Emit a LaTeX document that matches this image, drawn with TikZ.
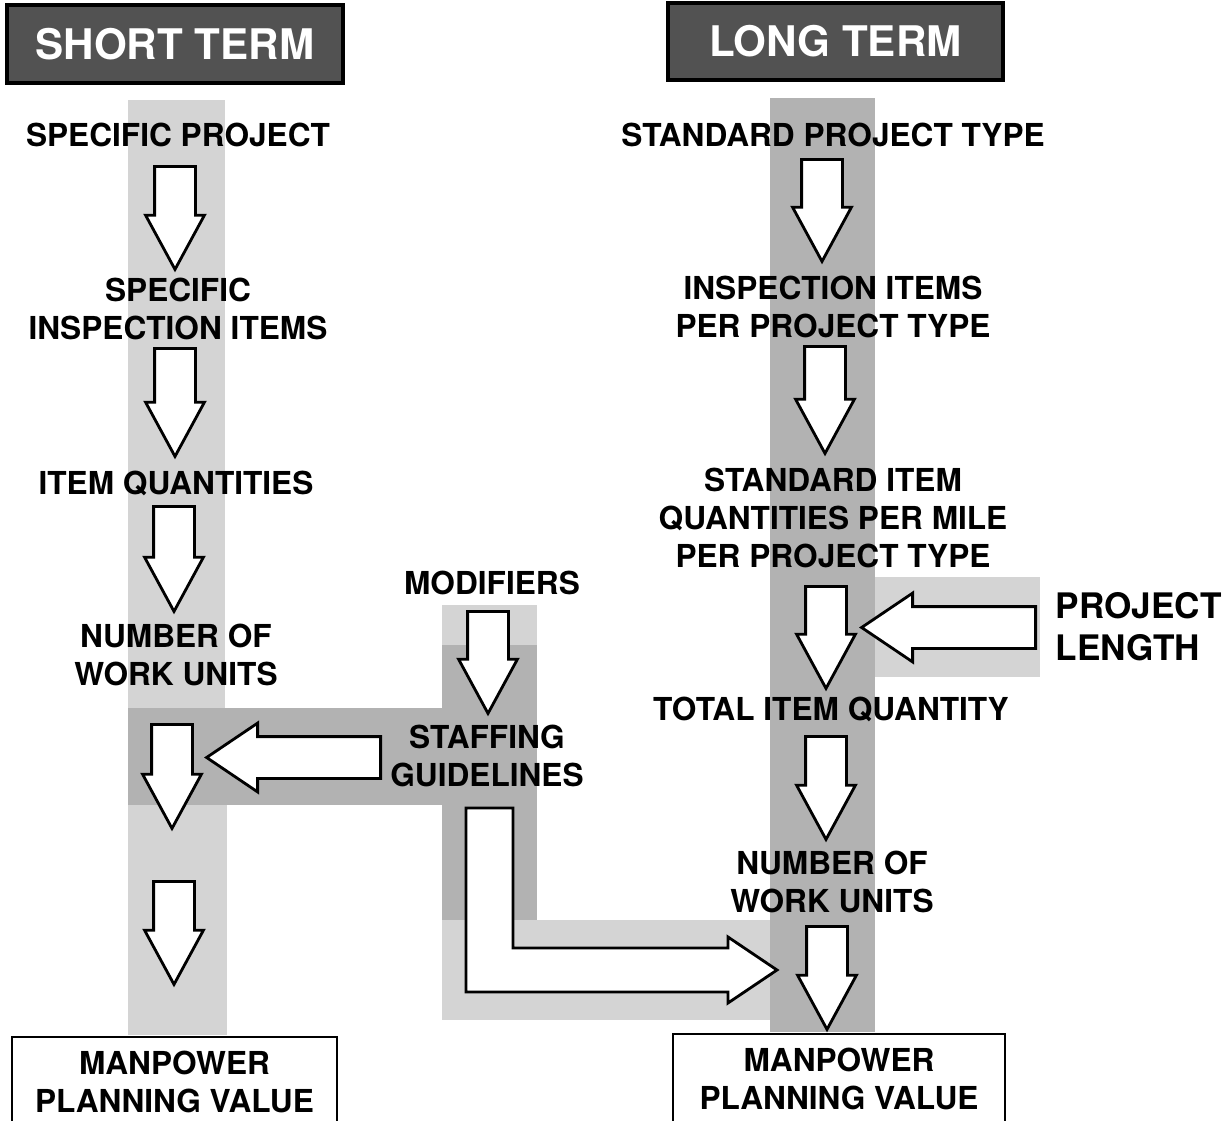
\documentclass[tikz,border=0pt]{standalone}
\usepackage{fontspec}
\setmainfont{TeX Gyre Heros}
\usetikzlibrary{shapes.arrows}

\tikzset{
  lbl/.style={font=\fontsize{9}{10.8}\selectfont\bfseries, align=center, inner sep=0pt},
  header/.style={draw=black, line width=1.2pt, fill=black!68, text=white,
    font=\fontsize{12}{14}\selectfont\bfseries, inner sep=0pt},
  band/.style={fill=black!30, draw=none},
  lightband/.style={fill=black!17, draw=none},
  blockline/.style={draw=black, fill=white, line width=0.8pt, line join=miter},
  downarrow/.style={single arrow, blockline, anchor=tail, inner xsep=0pt, inner ysep=0.19cm,
    minimum width=0.56cm, single arrow head extend=0.09cm, single arrow tip angle=57, rotate=-90},
  leftarrow/.style={single arrow, blockline, anchor=tail, inner xsep=0pt, inner ysep=0.195cm,
    minimum width=0.66cm, single arrow head extend=0.135cm, single arrow tip angle=68, rotate=180},
  valuebox/.style={lbl, draw=black, line width=0.8pt, minimum height=0.9cm}
}

\begin{document}
\begin{tikzpicture}
    \useasboundingbox[fill=white] (0,0) rectangle (12.3,-11.2);

    % shaded paths behind the flow
    \fill[lightband] (1.28,-1.00) rectangle (2.25,-7.08);
    \fill[band] (1.28,-7.08) rectangle (4.42,-8.05);
    \fill[lightband] (1.28,-8.05) rectangle (2.27,-10.35);
    \fill[lightband] (4.42,-6.05) rectangle (5.37,-6.45);
    \fill[band] (4.42,-6.45) rectangle (5.37,-9.20);
    \fill[lightband] (4.42,-9.20) rectangle (7.70,-10.20);
    \fill[band] (7.70,-0.98) rectangle (8.75,-10.32);
    \fill[lightband] (8.75,-5.77) rectangle (10.40,-6.77);

    % headers
    \node[header, minimum width=3.36cm, minimum height=0.78cm] (short) at (1.75,-0.44) {SHORT TERM};
    \node[header, minimum width=3.35cm, minimum height=0.77cm] (long) at (8.355,-0.415) {LONG TERM};

    % short term column
    \node[lbl] (sp) at (1.78,-1.35) {SPECIFIC PROJECT};
    \node[lbl] (sii) at (1.78,-3.09) {SPECIFIC\\INSPECTION ITEMS};
    \node[lbl] (iq) at (1.76,-4.83) {ITEM QUANTITIES};
    \node[lbl] (nwu) at (1.76,-6.55) {NUMBER OF\\WORK UNITS};
    \node[valuebox, minimum width=3.25cm] (lval) at (1.745,-10.82) {MANPOWER\\PLANNING VALUE};

    % modifiers
    \node[lbl] (mod) at (4.92,-5.83) {MODIFIERS};
    \node[lbl] (sg) at (4.87,-7.56) {STAFFING\\GUIDELINES};

    % long term column
    \node[lbl] (spt) at (8.33,-1.35) {STANDARD PROJECT TYPE};
    \node[lbl] (iip) at (8.33,-3.07) {INSPECTION ITEMS\\PER PROJECT TYPE};
    \node[lbl] (siq) at (8.33,-5.18) {STANDARD ITEM\\QUANTITIES PER MILE\\PER PROJECT TYPE};
    \node[lbl, font=\fontsize{10}{12}\selectfont\bfseries, align=left, anchor=west] (pl) at (10.55,-6.265) {PROJECT\\LENGTH};
    \node[lbl] (tiq) at (8.31,-7.09) {TOTAL ITEM QUANTITY};
    \node[lbl] (nwu2) at (8.32,-8.82) {NUMBER OF\\WORK UNITS};
    \node[valuebox, minimum width=3.32cm] (rval) at (8.39,-10.79) {MANPOWER\\PLANNING VALUE};

    % block arrows, placed by their tails
    \node[downarrow, minimum height=1.03cm] (a1) at (1.75,-1.65) {};
    \node[downarrow, minimum height=1.08cm] (a2) at (1.75,-3.47) {};
    \node[downarrow, minimum height=1.05cm] (a3) at (1.74,-5.05) {};
    \node[downarrow, minimum height=1.04cm] (a4) at (1.72,-7.23) {};
    \node[downarrow, minimum height=1.03cm] (a5) at (1.74,-8.80) {};

    \node[downarrow, minimum height=1.02cm] (m1) at (4.88,-6.10) {};

    \node[downarrow, minimum height=1.02cm] (r1) at (8.22,-1.58) {};
    \node[downarrow, minimum height=1.07cm] (r2) at (8.25,-3.45) {};
    \node[downarrow, minimum height=1.02cm] (r3) at (8.26,-5.85) {};
    \node[downarrow, minimum height=1.03cm] (r4) at (8.26,-7.35) {};
    \node[downarrow, minimum height=1.03cm] (r5) at (8.27,-9.25) {};

    \node[leftarrow, minimum height=1.74cm] (guide) at (3.82,-7.575) {};
    \node[leftarrow, minimum height=1.74cm, minimum width=0.65cm] (length) at (10.37,-6.275) {};

    % bent arrow from the guidelines to the long term column
    \draw[blockline] (4.66,-8.08) -- (5.13,-8.08) -- (5.13,-9.48) -- (7.28,-9.48)
        -- (7.28,-9.37) -- (7.77,-9.70) -- (7.28,-10.03) -- (7.28,-9.92)
        -- (4.66,-9.92) -- cycle;
\end{tikzpicture}
\end{document}
